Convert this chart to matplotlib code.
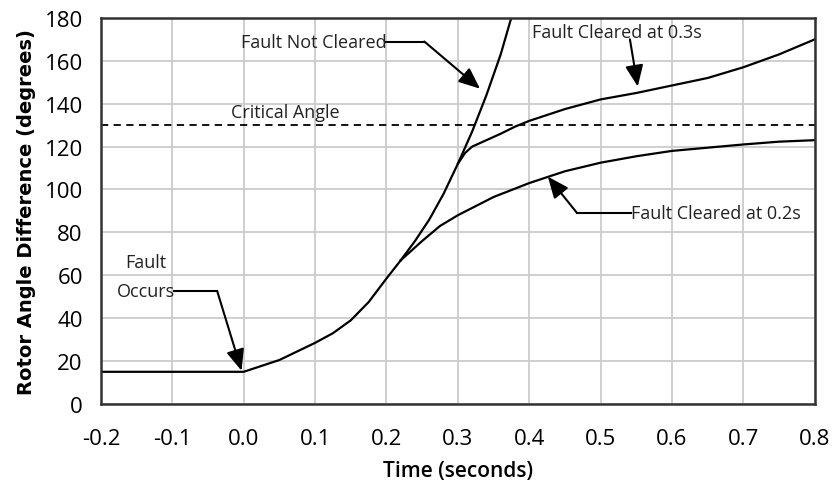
import matplotlib.pyplot as plt
import numpy as np

# data
t_awal = [-0.2, 0.0, 0.05, 0.1, 0.125, 0.15, 0.175, 0.2, 0.22]
d_awal = [15, 15, 20.5, 28.5, 33, 39, 47.5, 58.5, 67]

t_tidak = [0.22, 0.24, 0.26, 0.28, 0.3, 0.32, 0.34, 0.36, 0.38]
d_tidak = [67, 76, 86, 98, 112, 127, 144, 163, 186]

t_03 = [0.3, 0.31, 0.32, 0.34, 0.36, 0.38, 0.4, 0.45, 0.5, 0.55, 0.6, 0.65, 0.7, 0.75, 0.8]
d_03 = [112, 117, 120, 123, 126, 129.3, 132, 137.5, 142, 145, 148.5, 152, 157, 163, 170]

t_02 = [0.22, 0.25, 0.275, 0.3, 0.35, 0.4, 0.45, 0.5, 0.55, 0.6, 0.65, 0.7, 0.75, 0.8]
d_02 = [67, 76, 83, 88, 96.5, 103, 108.5, 112.5, 115.5, 118, 119.5, 121, 122.3, 123]

sudut_kritis = 130
x_ticks = [-0.2, -0.1, 0.0, 0.1, 0.2, 0.3, 0.4, 0.5, 0.6, 0.7, 0.8]
y_ticks = [0, 20, 40, 60, 80, 100, 120, 140, 160, 180]

fig = plt.figure(figsize=(8.34, 4.85), dpi=100)
ax = fig.add_axes([0.121, 0.165, 0.856, 0.796])

ax.plot(t_awal, d_awal, color='black', lw=1.6)
ax.plot(t_tidak, d_tidak, color='black', lw=1.6)
ax.plot(t_03, d_03, color='black', lw=1.6)
ax.plot(t_02, d_02, color='black', lw=1.6)
ax.axhline(sudut_kritis, color='black', lw=1.3, ls=(0, (4, 3)))

ax.set_xlim(-0.2, 0.8)
ax.set_ylim(0, 180)
ax.set_xticks(x_ticks)
ax.set_xticklabels([f"{v:.1f}" for v in x_ticks])
ax.set_yticks(y_ticks)
ax.grid(True, color='#cccccc', lw=1.3)
ax.set_axisbelow(True)
for s in ax.spines.values():
    s.set_color('#333333')
    s.set_linewidth(1.8)
ax.tick_params(length=0, labelsize=16, pad=13)
ax.tick_params(axis='x', pad=17)
for lbl in ax.get_xticklabels() + ax.get_yticklabels():
    lbl.set_fontfamily('Open Sans')

ax.set_xlabel("Time (seconds)", fontsize=15, fontfamily='Open Sans',
              fontweight='semibold', labelpad=8)
ax.set_ylabel("Rotor Angle Difference (degrees)", fontsize=14,
              fontfamily='DejaVu Sans', fontweight='bold', labelpad=6)

# anotasi
fnt = dict(fontsize=13, fontfamily='Open Sans', color='#222222')
panah = dict(arrowstyle='-|>,head_length=1.3,head_width=0.55', color='black',
             lw=1.5, shrinkA=0, shrinkB=0)

ax.text(0.058, 136, "Critical Angle", ha='center', va='center', **fnt)

ax.text(0.2, 169, "Fault Not Cleared", ha='right', va='center', **fnt)
ax.plot([0.2, 0.253], [169, 169], color='black', lw=1.5)
ax.annotate("", xy=(0.331, 147), xytext=(0.253, 169), arrowprops=panah)

ax.text(0.523, 173.5, "Fault Cleared at 0.3s", ha='center', va='center', **fnt)
ax.annotate("", xy=(0.552, 148), xytext=(0.541, 170), arrowprops=panah)

ax.text(0.543, 89, "Fault Cleared at 0.2s", ha='left', va='center', **fnt)
ax.plot([0.543, 0.467], [89, 89], color='black', lw=1.5)
ax.annotate("", xy=(0.426, 106), xytext=(0.467, 89), arrowprops=panah)

ax.text(-0.137, 66, "Fault", ha='center', va='center', **fnt)
ax.text(-0.137, 52.5, "Occurs", ha='center', va='center', **fnt)
ax.plot([-0.097, -0.037], [52.5, 52.5], color='black', lw=1.5)
ax.annotate("", xy=(-0.003, 15.5), xytext=(-0.037, 52.5), arrowprops=panah)

fig.savefig('out.png', dpi=100)
